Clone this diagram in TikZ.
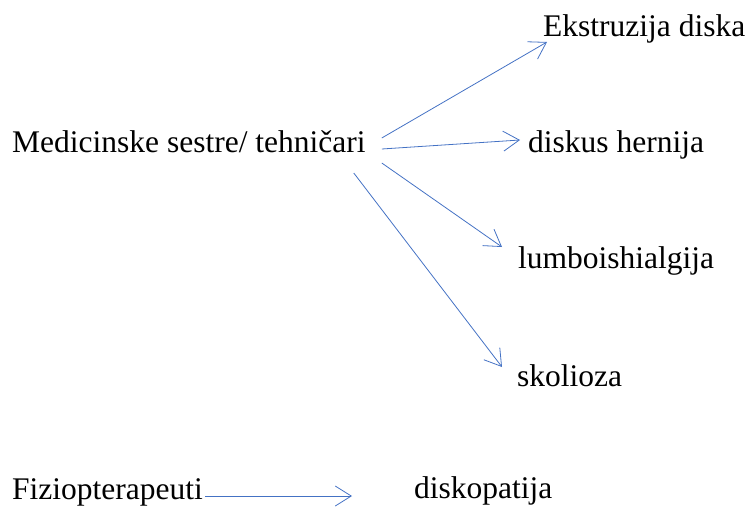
\documentclass[tikz,border=0pt]{standalone}
\usepackage{fontspec}
\setmainfont{Liberation Serif}
\usetikzlibrary{arrows.meta}

\begin{document}
\begin{tikzpicture}[x=1pt,y=-1pt,
		term/.style={anchor=base west, inner sep=0pt, font=\fontsize{31.5}{38}\selectfont},
		link/.style={draw={rgb,255:red,68;green,114;blue,196}, line width=0.8pt, -{Straight Barb[length=16pt,width=20pt,line width=0.8pt]}}]
		\useasboundingbox (0,0) rectangle (752,508);

		\node[term] (med) at (12,153) {Medicinske sestre/ tehničari};
		\node[term] (ekst) at (543,37) {Ekstruzija diska};
		\node[term] (hern) at (528,153) {diskus hernija};
		\node[term] (lumb) at (518,268) {lumboishialgija};
		\node[term] (skol) at (517,386) {skolioza};

		\node[term] (fizio) at (12,499) {Fiziopterapeuti};
		\node[term] (disk) at (414,498) {diskopatija};

		\draw[link] ([shift={(16,-15)}]med.base east) -- ([shift={(4,5)}]ekst.base west);
		\draw[link] ([shift={(16,-4)}]med.base east) -- ([shift={(-8,-13)}]hern.base west);
		\draw[link] ([shift={(16,10)}]med.base east) -- ([shift={(-16,-21)}]lumb.base west);
		\draw[link] ([shift={(-12,20)}]med.base east) -- ([shift={(-15,-19)}]skol.base west);

		\draw[link] ([shift={(2,-3)}]fizio.base east) -- ([shift={(-62,-2)}]disk.base west);
	\end{tikzpicture}
\end{document}
